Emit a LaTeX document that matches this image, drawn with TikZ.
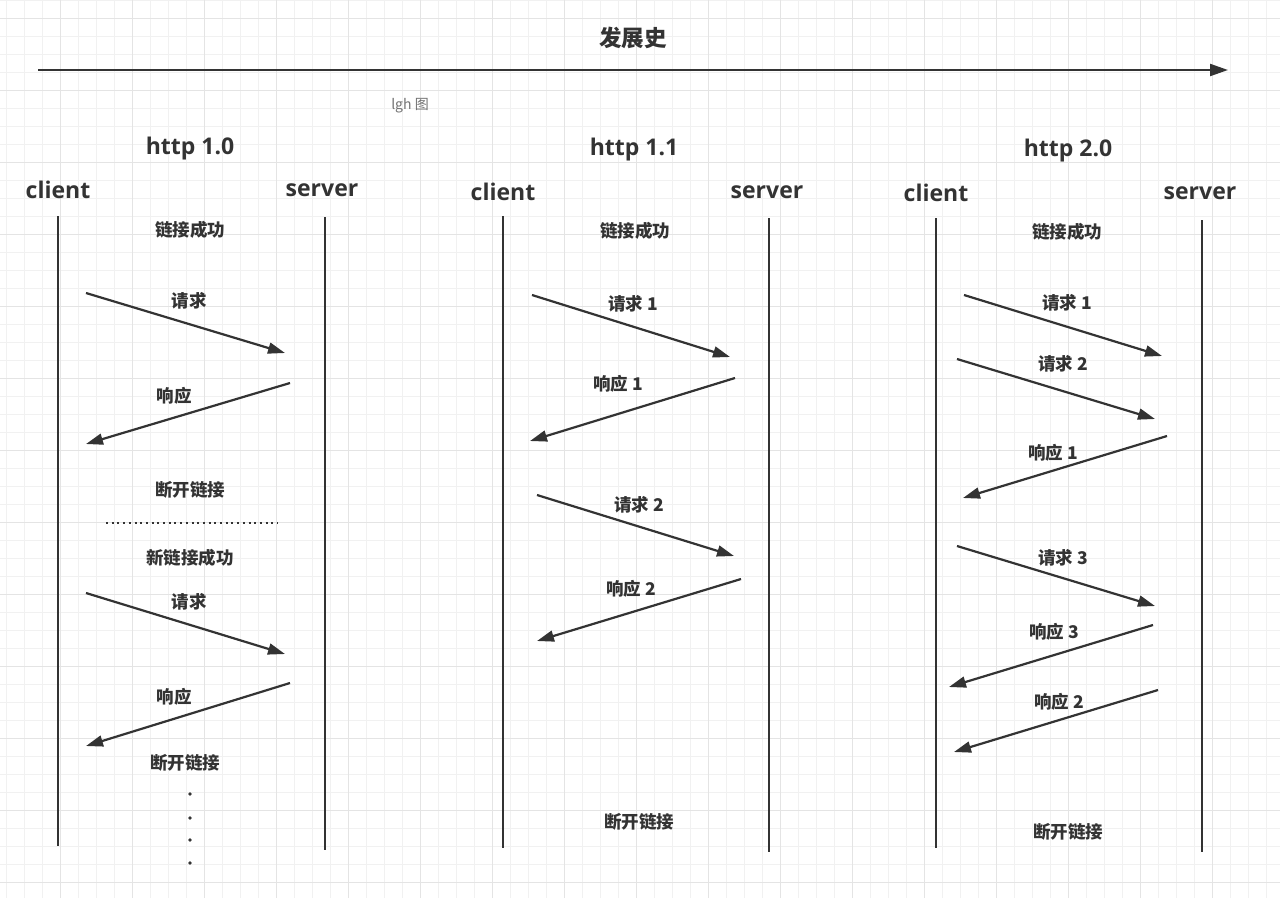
\documentclass[tikz,border=0pt]{standalone}
\usepackage{fontspec}
\setmainfont{Open Sans}
\newfontfamily\cjk{Noto Sans CJK SC}
\usepackage{tikz}
\usetikzlibrary{arrows.meta}
\definecolor{ink}{HTML}{333333}
\definecolor{gridminor}{HTML}{F1F1F1}
\definecolor{gridmajor}{HTML}{E4E4E4}

\begin{document}
\begin{tikzpicture}[x=1pt, y=-1pt,
    head/.style={font=\bfseries\fontsize{23}{23}\selectfont, text=ink, inner sep=0pt},
    lbl/.style={font=\cjk\bfseries\fontsize{17.5}{17.5}\selectfont, text=ink, inner sep=0pt},
    msg/.style={draw=ink, line width=2.2pt, -{Triangle[length=17pt,width=11pt]}},
    life/.style={draw=ink, line width=2.2pt}]
    \useasboundingbox[fill=white] (0,0) rectangle (1280,898);
    % background grid
    \foreach \gx in {6,24,...,1278} \draw[gridminor, line width=1pt] (\gx,0) -- (\gx,898);
    \foreach \gy in {0,18,...,890} \draw[gridminor, line width=1pt] (0,\gy) -- (1280,\gy);
    \foreach \gx in {60,132,...,1278} \draw[gridmajor, line width=1pt] (\gx,0) -- (\gx,898);
    \foreach \gy in {18,90,...,890} \draw[gridmajor, line width=1pt] (0,\gy) -- (1280,\gy);

    % timeline
    \coordinate (TL) at (38,70);
    \coordinate (TR) at (1228,70);
    \draw[ink, line width=2.2pt, -{Triangle[length=18pt,width=12pt]}] (TL) -- (TR);
    \node[font=\cjk\bfseries\fontsize{22.5}{22.5}\selectfont, text=ink] (T) at (633,38) {发展史};
    \node[font=\cjk\fontsize{14}{14}\selectfont, text=black!55] (W) at (410,106) {lgh 图};

    % http 1.0
    \node[head] (H1) at (190,149) {http 1.0};
    \node[head] (CL1) at (58,190) {client};
    \node[head] (SV1) at (322,190) {server};
    \coordinate (CT1) at (58,216);
    \coordinate (CB1) at (58,846);
    \coordinate (ST1) at (325,217);
    \coordinate (SB1) at (325,850);
    \draw[life] (CT1) -- (CB1);
    \draw[life] (ST1) -- (SB1);
    \coordinate (A1s) at (86,293);
    \coordinate (A1e) at (285,353);
    \coordinate (A2s) at (290,383);
    \coordinate (A2e) at (86,444);
    \coordinate (A3s) at (86,593);
    \coordinate (A3e) at (285,654);
    \coordinate (A4s) at (290,683);
    \coordinate (A4e) at (86,746);
    \coordinate (DL) at (106,523);
    \coordinate (DR) at (278,523);
    \draw[msg] (A1s) -- (A1e);
    \draw[msg] (A2s) -- (A2e);
    \draw[msg] (A3s) -- (A3e);
    \draw[msg] (A4s) -- (A4e);
    \draw[ink, line width=2pt, dash pattern=on 2pt off 3.7pt] (DL) -- (DR);
    \node[lbl] (K1) at (190,230) {链接成功};
    \node[lbl] (Q1) at (189,301) {请求};
    \node[lbl] (R1) at (174,396) {响应};
    \node[lbl] (E1) at (190,490) {断开链接};
    \node[lbl] (N1) at (190,558) {新链接成功};
    \node[lbl] (Q2) at (189,602) {请求};
    \node[lbl] (R2) at (174,697) {响应};
    \node[lbl] (E2) at (185,763) {断开链接};
    \foreach \dy in {794,818,840,863} \fill[ink] (190,\dy) circle (1.8pt);

    % http 1.1
    \node[head] (H2) at (634,150) {http 1.1};
    \node[head] (CL2) at (503,192) {client};
    \node[head] (SV2) at (767,192) {server};
    \coordinate (CT2) at (503,216);
    \coordinate (CB2) at (503,848);
    \coordinate (ST2) at (769,218);
    \coordinate (SB2) at (769,852);
    \draw[life] (CT2) -- (CB2);
    \draw[life] (ST2) -- (SB2);
    \coordinate (B1s) at (532,295);
    \coordinate (B1e) at (730,357);
    \coordinate (B2s) at (735,378);
    \coordinate (B2e) at (530,441);
    \coordinate (B3s) at (537,495);
    \coordinate (B3e) at (734,556);
    \coordinate (B4s) at (741,579);
    \coordinate (B4e) at (537,641);
    \draw[msg] (B1s) -- (B1e);
    \draw[msg] (B2s) -- (B2e);
    \draw[msg] (B3s) -- (B3e);
    \draw[msg] (B4s) -- (B4e);
    \node[lbl] (K2) at (635,231) {链接成功};
    \node[lbl] (Q3) at (633,304) {请求 1};
    \node[lbl] (R3) at (618,384) {响应 1};
    \node[lbl] (Q4) at (639,505) {请求 2};
    \node[lbl] (R4) at (631,589) {响应 2};
    \node[lbl] (E3) at (639,822) {断开链接};

    % http 2.0
    \node[head] (H3) at (1068,151) {http 2.0};
    \node[head] (CL3) at (936,193) {client};
    \node[head] (SV3) at (1200,193) {server};
    \coordinate (CT3) at (936,218);
    \coordinate (CB3) at (936,848);
    \coordinate (ST3) at (1202,220);
    \coordinate (SB3) at (1202,852);
    \draw[life] (CT3) -- (CB3);
    \draw[life] (ST3) -- (SB3);
    \coordinate (C1s) at (964,295);
    \coordinate (C1e) at (1162,356);
    \coordinate (C2s) at (957,359);
    \coordinate (C2e) at (1155,419);
    \coordinate (C3s) at (1167,436);
    \coordinate (C3e) at (963,498);
    \coordinate (C4s) at (957,546);
    \coordinate (C4e) at (1155,606);
    \coordinate (C5s) at (1153,625);
    \coordinate (C5e) at (949,687);
    \coordinate (C6s) at (1158,690);
    \coordinate (C6e) at (954,752);
    \draw[msg] (C1s) -- (C1e);
    \draw[msg] (C2s) -- (C2e);
    \draw[msg] (C3s) -- (C3e);
    \draw[msg] (C4s) -- (C4e);
    \draw[msg] (C5s) -- (C5e);
    \draw[msg] (C6s) -- (C6e);
    \node[lbl] (K3) at (1067,232) {链接成功};
    \node[lbl] (Q5) at (1067,303) {请求 1};
    \node[lbl] (Q6) at (1063,364) {请求 2};
    \node[lbl] (R5) at (1053,453) {响应 1};
    \node[lbl] (Q7) at (1063,558) {请求 3};
    \node[lbl] (R6) at (1054,632) {响应 3};
    \node[lbl] (R7) at (1059,702) {响应 2};
    \node[lbl] (E4) at (1068,832) {断开链接};
\end{tikzpicture}
\end{document}
